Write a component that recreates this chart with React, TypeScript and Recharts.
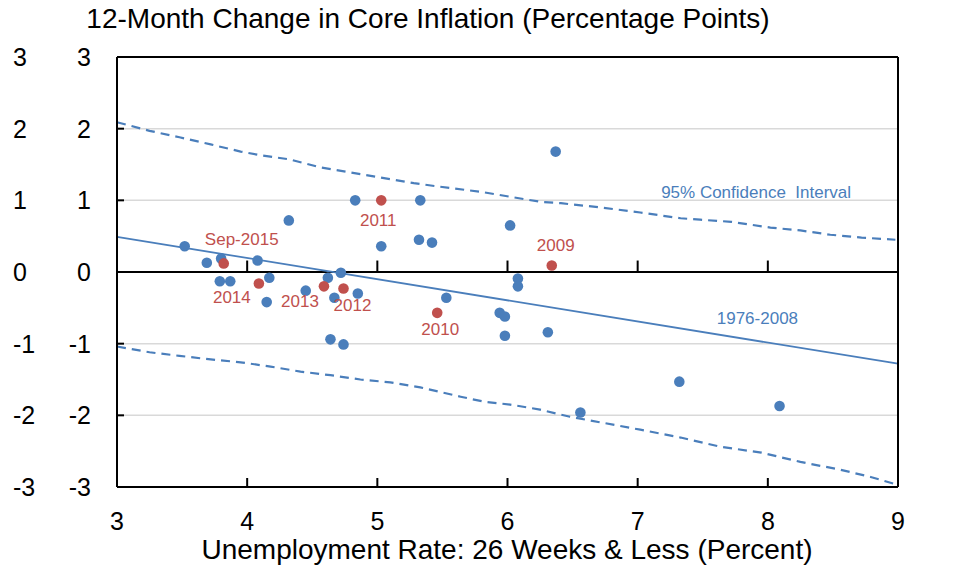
import { ComposedChart, Scatter, Line, XAxis, YAxis, ReferenceLine, ReferenceDot } from 'recharts';

// 1976-2008 observations
const blueX = [3.52, 3.69, 3.80, 3.79, 3.87, 4.08, 4.17, 4.15, 4.32, 4.45, 4.62, 4.64, 4.67, 4.72, 4.74, 4.85, 4.83, 5.03, 5.32, 5.42, 5.33, 5.53, 5.94, 5.98, 5.98, 6.02, 6.08, 6.08, 6.31, 6.37, 6.56, 7.32, 8.09];
const blueY = [0.36, 0.13, 0.19, -0.13, -0.13, 0.16, -0.08, -0.42, 0.72, -0.26, -0.08, -0.94, -0.36, -0.01, -1.01, -0.30, 1.0, 0.36, 0.45, 0.41, 1.0, -0.36, -0.57, -0.62, -0.89, 0.65, -0.09, -0.20, -0.84, 1.68, -1.96, -1.53, -1.87];

// recent years
const redNames = ['Sep-2015', '2014', '2013', '2012', '2011', '2010', '2009'];
const redX = [3.82, 4.09, 4.59, 4.74, 5.03, 5.46, 6.34];
const redY = [0.12, -0.16, -0.20, -0.23, 1.0, -0.57, 0.09];

// fitted line 1976-2008
const fitX = [3, 9];
const fitY = [0.49, -1.28];

// 95% confidence bands
const upperX = [3.0, 3.25, 3.48, 3.72, 3.95, 4.10, 4.33, 4.56, 4.79, 5.02, 5.28, 5.48, 5.79, 6.02, 6.25, 6.41, 6.72, 7.02, 7.33, 7.48, 7.72, 8.02, 8.25, 8.48, 8.72, 8.98];
const upperY = [2.09, 1.97, 1.88, 1.78, 1.68, 1.63, 1.57, 1.46, 1.39, 1.32, 1.24, 1.19, 1.12, 1.05, 0.98, 0.96, 0.90, 0.83, 0.75, 0.73, 0.70, 0.62, 0.58, 0.52, 0.48, 0.45];
const lowerX = [3.0, 3.25, 3.48, 3.72, 3.95, 4.18, 4.41, 4.64, 4.87, 5.10, 5.33, 5.64, 5.82, 6.02, 6.25, 6.48, 6.72, 7.02, 7.33, 7.64, 7.95, 8.25, 8.56, 8.79, 9.0];
const lowerY = [-1.04, -1.12, -1.17, -1.22, -1.26, -1.32, -1.39, -1.44, -1.50, -1.54, -1.61, -1.74, -1.81, -1.85, -1.92, -2.02, -2.10, -2.20, -2.31, -2.44, -2.52, -2.65, -2.76, -2.86, -2.97];

const xTicks = [3, 4, 5, 6, 7, 8, 9];
const yTicks = [-3, -2, -1, 0, 1, 2, 3];
const gridValues = [-2, -1, 1, 2];

const BLUE = '#4A7EBB';
const RED = '#C0504D';
const FONT = '"Liberation Sans", Arial, sans-serif';

const zip = (xs: number[], ys: number[]) => xs.map((x, i) => ({ x, y: ys[i] }));
const blueData = zip(blueX, blueY);
const redData = redX.map((x, i) => ({ x, y: redY[i], name: redNames[i] }));
const fitData = zip(fitX, fitY);
const upperData = zip(upperX, upperY);
const lowerData = zip(lowerX, lowerY);

// where each year label sits relative to its dot (px)
const labelOffset: Record<string, [number, number]> = {
  'Sep-2015': [18, -18],
  '2014': [-27, 20],
  '2013': [-24, 21],
  '2012': [9, 23],
  '2011': [-3, 26],
  '2010': [3, 22],
  '2009': [4, -15],
};

const LeftTick = ({ x, y, payload }: any) => (
  <g>
    <line x1={x} x2={x + 7} y1={y} y2={y} stroke="#000" strokeWidth={2} />
    <text x={x - 104} y={y + 9} fontSize={25} fontFamily={FONT} fill="#000" textAnchor="start">{payload.value}</text>
    <text x={x - 26} y={y + 9} fontSize={25} fontFamily={FONT} fill="#000" textAnchor="end">{payload.value}</text>
  </g>
);

const RightTick = ({ x, y, payload }: any) => (
  <g>
    <line x1={x} x2={x - 9} y1={y} y2={y} stroke="#000" strokeWidth={2} />
    <text x={x + 25} y={y + 9} fontSize={25} fontFamily={FONT} fill="#000" textAnchor="start">{payload.value}</text>
  </g>
);

const BottomTick = ({ x, y, payload }: any) => (
  <g>
    <line x1={x} x2={x} y1={y} y2={y - 9} stroke="#000" strokeWidth={2} />
    <text x={x} y={y + 43} fontSize={25} fontFamily={FONT} fill="#000" textAnchor="middle">{payload.value}</text>
  </g>
);

const BlueDot = ({ cx, cy }: any) => <circle cx={cx} cy={cy} r={5.3} fill={BLUE} />;

const RedDot = ({ cx, cy, payload }: any) => {
  const [dx, dy] = labelOffset[payload.name] || [0, 0];
  return (
    <g>
      <circle cx={cx} cy={cy} r={5.3} fill={RED} />
      <text x={cx + dx} y={cy + dy} fontSize={17} fontFamily={FONT} fill={RED} textAnchor="middle">{payload.name}</text>
    </g>
  );
};

const Note = (text: string) => ({ cx, cy }: any) => (
  <text x={cx} y={cy + 6} fontSize={17} fontFamily={FONT} fill={BLUE} textAnchor="middle" style={{ whiteSpace: 'pre' }}>{text}</text>
);

export default function App() {
  return (
    <div style={{ position: 'absolute', left: 0, top: 0, width: 961, height: 567, background: '#fff', fontFamily: FONT }}>
      <div style={{ position: 'absolute', left: 28, top: 5, width: 800, textAlign: 'center', fontSize: 28, lineHeight: '28px', whiteSpace: 'nowrap', color: '#000' }}>
        12-Month Change in Core Inflation (Percentage Points)
      </div>
      <div style={{ position: 'absolute', left: 107, top: 536, width: 800, textAlign: 'center', fontSize: 28, lineHeight: '28px', whiteSpace: 'nowrap', color: '#000' }}>
        Unemployment Rate: 26 Weeks &amp; Less (Percent)
      </div>
      <ComposedChart width={961} height={567} margin={{ top: 57, right: 0, bottom: 0, left: 0 }} style={{ position: 'absolute', left: 0, top: 0 }}>
        <XAxis
          dataKey="x"
          type="number"
          domain={[3, 9]}
          ticks={xTicks}
          height={80}
          tickSize={0}
          tickMargin={0}
          tickLine={false}
          axisLine={{ stroke: '#000', strokeWidth: 2 }}
          tick={<BottomTick />}
          interval={0}
        />
        <YAxis
          yAxisId="left"
          dataKey="y"
          type="number"
          domain={[-3, 3]}
          ticks={yTicks}
          width={117}
          tickSize={0}
          tickMargin={0}
          tickLine={false}
          axisLine={{ stroke: '#000', strokeWidth: 2 }}
          tick={<LeftTick />}
          interval={0}
        />
        <YAxis
          yAxisId="right"
          orientation="right"
          type="number"
          domain={[-3, 3]}
          ticks={yTicks}
          width={63}
          tickSize={0}
          tickMargin={0}
          tickLine={false}
          axisLine={{ stroke: '#000', strokeWidth: 2 }}
          tick={<RightTick />}
          interval={0}
        />
        {gridValues.map((v) => (
          <ReferenceLine key={`g${v}`} yAxisId="left" y={v} stroke="#D9D9D9" strokeWidth={1.5} />
        ))}
        <ReferenceLine yAxisId="left" y={3} stroke="#000" strokeWidth={2} />
        <ReferenceLine yAxisId="left" y={0} stroke="#000" strokeWidth={2} />
        {xTicks.slice(1, -1).map((v) => (
          <ReferenceLine key={`t${v}`} yAxisId="left" segment={[{ x: v, y: 0 }, { x: v, y: 0.16 }]} stroke="#000" strokeWidth={2} />
        ))}
        <Line yAxisId="left" data={upperData} dataKey="y" type="linear" stroke={BLUE} strokeWidth={2.2} strokeDasharray="9 6" dot={false} activeDot={false} isAnimationActive={false} />
        <Line yAxisId="left" data={lowerData} dataKey="y" type="linear" stroke={BLUE} strokeWidth={2.2} strokeDasharray="9 6" dot={false} activeDot={false} isAnimationActive={false} />
        <Line yAxisId="left" data={fitData} dataKey="y" type="linear" stroke={BLUE} strokeWidth={1.8} dot={false} activeDot={false} isAnimationActive={false} />
        <Scatter yAxisId="left" data={blueData} fill={BLUE} shape={<BlueDot />} isAnimationActive={false} />
        <Scatter yAxisId="left" data={redData} fill={RED} shape={<RedDot />} isAnimationActive={false} />
        <ReferenceDot yAxisId="left" x={7.91} y={1.12} r={0} shape={Note('95% Confidence  Interval')} />
        <ReferenceDot yAxisId="left" x={7.92} y={-0.64} r={0} shape={Note('1976-2008')} />
      </ComposedChart>
    </div>
  );
}
